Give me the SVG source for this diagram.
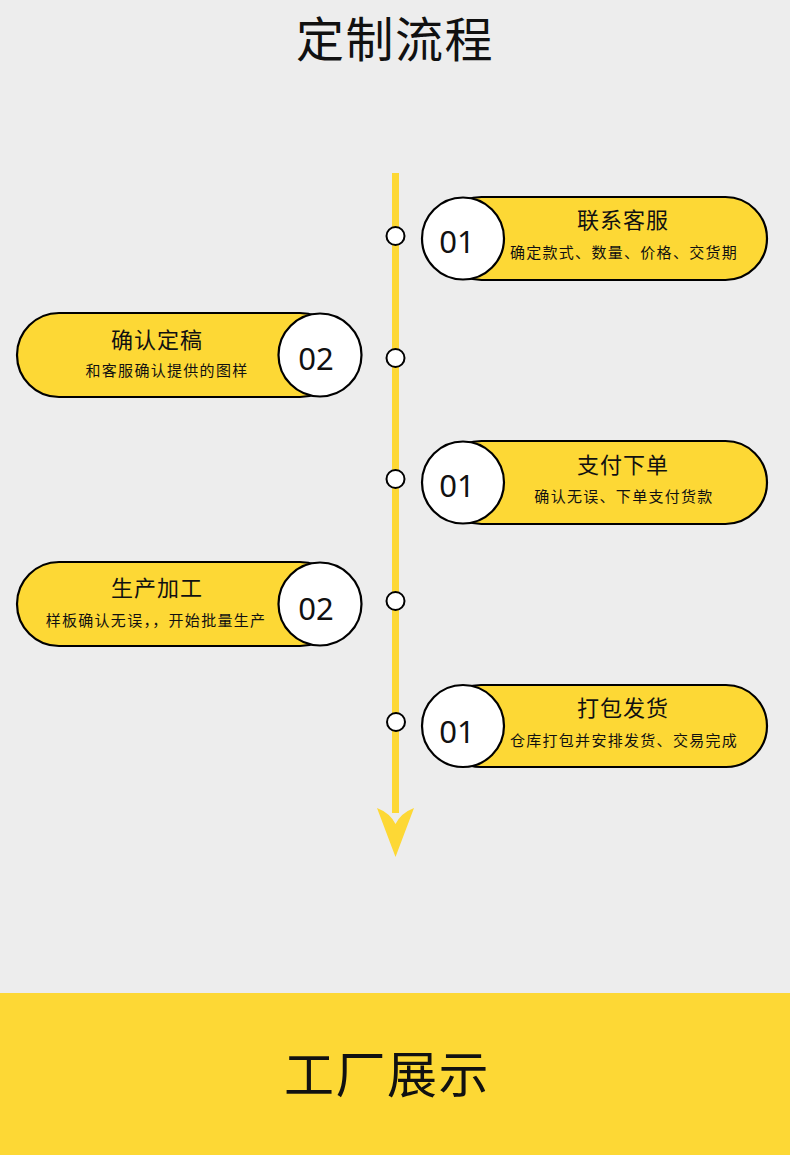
<svg xmlns="http://www.w3.org/2000/svg" width="790" height="1155" viewBox="0 0 790 1155">
<style>
.bg{fill:#ededed}
.band{fill:#fdd835}
.pill{fill:#fdd835;stroke:#000;stroke-width:2.2}
.badge{fill:#fff;stroke:#000;stroke-width:2.2}
.dot{fill:#fff;stroke:#000;stroke-width:2}
.h{font-family:"Noto Sans CJK SC","Noto Sans",sans-serif;fill:#111;text-anchor:middle}
.t{font-size:22px;letter-spacing:1px}
.s{font-size:15px;letter-spacing:1.3px}
.n{font-family:"Noto Sans","Open Sans",sans-serif;font-size:31px;fill:#111;text-anchor:middle}
</style>
<rect class="bg" x="0" y="0" width="790" height="1155"/>
<text class="h" x="395" y="57" font-size="48" letter-spacing="1.5">定制流程</text>

<g id="connectors">
<rect x="392" y="173" width="7" height="640" fill="#fdd835"/>
<path d="M377,808 Q390,813 395.5,824 Q401,813 414,808 L395.5,857 Z" fill="#fdd835"/>
</g>

<g id="step1">
<rect class="pill" x="440" y="197" width="327" height="83" rx="41.5"/>
<circle class="badge" cx="463" cy="238.5" r="41"/>
<text class="n" x="457" y="253">01</text>
<text class="h t" x="623" y="228">联系客服</text>
<text class="h s" x="624" y="258">确定款式、数量、价格、交货期</text>
<circle class="dot" cx="395.5" cy="236" r="9"/>
</g>

<g id="step2">
<rect class="pill" x="17" y="313" width="325" height="84" rx="42"/>
<circle class="badge" cx="320" cy="355" r="41.5"/>
<text class="n" x="316" y="370">02</text>
<text class="h t" x="157" y="348">确认定稿</text>
<text class="h s" x="167" y="376">和客服确认提供的图样</text>
<circle class="dot" cx="395.5" cy="358" r="9"/>
</g>

<g id="step3">
<rect class="pill" x="440" y="441" width="327" height="83" rx="41.5"/>
<circle class="badge" cx="463" cy="482.5" r="41"/>
<text class="n" x="457" y="497">01</text>
<text class="h t" x="623" y="473">支付下单</text>
<text class="h s" x="624" y="502">确认无误、下单支付货款</text>
<circle class="dot" cx="395.5" cy="479" r="9"/>
</g>

<g id="step4">
<rect class="pill" x="17" y="562" width="325" height="84" rx="42"/>
<circle class="badge" cx="320" cy="604" r="41.5"/>
<text class="n" x="316" y="620">02</text>
<text class="h t" x="157" y="596">生产加工</text>
<text class="h s" x="156" y="626">样板确认无误，，开始批量生产</text>
<circle class="dot" cx="395.5" cy="601" r="9"/>
</g>

<g id="step5">
<rect class="pill" x="440" y="685" width="327" height="82" rx="41"/>
<circle class="badge" cx="463" cy="726" r="41"/>
<text class="n" x="457" y="743">01</text>
<text class="h t" x="623" y="716">打包发货</text>
<text class="h s" x="624" y="746">仓库打包并安排发货、交易完成</text>
<circle class="dot" cx="396" cy="722" r="9"/>
</g>

<rect class="band" x="0" y="993" width="790" height="162"/>
<text class="h" x="387" y="1093" font-size="50" letter-spacing="1.5">工厂展示</text>
</svg>
